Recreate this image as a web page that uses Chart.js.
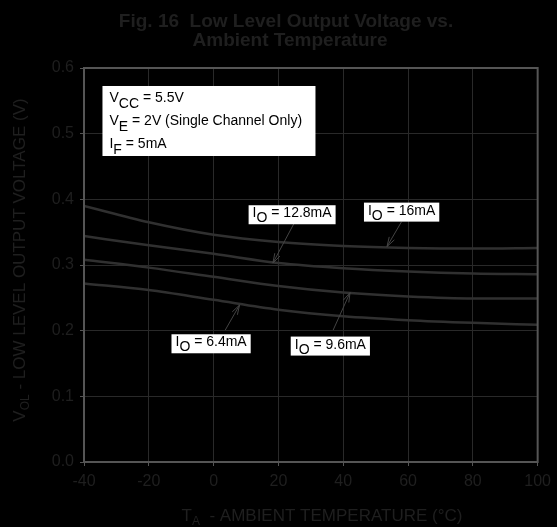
<!DOCTYPE html>
<html lang="en">
<head>
<meta charset="UTF-8">
<title>Fig. 16 Low Level Output Voltage vs. Ambient Temperature</title>
<script src="https://cdnjs.cloudflare.com/ajax/libs/Chart.js/4.4.0/chart.umd.min.js"></script>
<style>
  html, body { margin: 0; padding: 0; background: #000; }
  #wrap { width: 557px; height: 527px; }
</style>
</head>
<body>
<div id="wrap"><canvas id="chart" width="557" height="527"></canvas></div>
<script>
// temperature points (degrees C)
const temps = [-40, -20, 0, 20, 40, 60, 80, 100];

// V_OL readings (V) for each output current
const vol16 = [0.390, 0.365, 0.346, 0.335, 0.329, 0.326, 0.325, 0.326];
const vol128 = [0.344, 0.330, 0.317, 0.303, 0.295, 0.290, 0.287, 0.286];
const vol96 = [0.308, 0.296, 0.282, 0.268, 0.258, 0.252, 0.249, 0.249];
const vol64 = [0.272, 0.262, 0.247, 0.232, 0.222, 0.216, 0.212, 0.209];

const seriesNames = ['16mA', '12.8mA', '9.6mA', '6.4mA'];
const conditions = [['V', 'CC', ' = 5.5V'], ['V', 'E', ' = 2V (Single Channel Only)'], ['I', 'F', ' = 5mA']];

const FONT = "'Liberation Sans', Arial, Helvetica, sans-serif";
const TEXT = '#1f1f1f';
const GRID = '#292929';
const CURVE = '#303030';

// label boxes: box top-left + arrow start/tip, all in data units
const callouts = [
  { name: seriesNames[1], box: [10.8, 0.391], from: [25.1, 0.366], tip: [18.3, 0.303] },
  { name: seriesNames[0], box: [46.4, 0.395], from: [58.0, 0.366], tip: [53.5, 0.328] },
  { name: seriesNames[2], box: [23.8, 0.191], from: [36.9, 0.201], tip: [42.1, 0.258] },
  { name: seriesNames[3], box: [-13.0, 0.1945], from: [3.6, 0.201], tip: [8.0, 0.239] }
];

function pts(vals) {
  return temps.map((t, i) => ({ x: t, y: vals[i] }));
}

// text with a subscript part: [main, sub, rest]
function richText(ctx, parts, x, y, size, subSize, shift) {
  ctx.font = size + 'px ' + FONT;
  ctx.fillText(parts[0], x, y);
  x += ctx.measureText(parts[0]).width;
  ctx.font = subSize + 'px ' + FONT;
  ctx.fillText(parts[1], x, y + shift);
  x += ctx.measureText(parts[1]).width;
  ctx.font = size + 'px ' + FONT;
  ctx.fillText(parts[2], x, y);
  return x + ctx.measureText(parts[2]).width;
}

function richWidth(ctx, parts, size, subSize) {
  ctx.font = size + 'px ' + FONT;
  let w = ctx.measureText(parts[0]).width + ctx.measureText(parts[2]).width;
  ctx.font = subSize + 'px ' + FONT;
  return w + ctx.measureText(parts[1]).width;
}

function arrow(ctx, x1, y1, x2, y2) {
  const a = Math.atan2(y2 - y1, x2 - x1);
  const len = 10, spread = 0.3;
  ctx.beginPath();
  ctx.moveTo(x1, y1);
  ctx.lineTo(x2, y2);
  ctx.moveTo(x2 - len * Math.cos(a - spread), y2 - len * Math.sin(a - spread));
  ctx.lineTo(x2, y2);
  ctx.lineTo(x2 - len * Math.cos(a + spread), y2 - len * Math.sin(a + spread));
  ctx.stroke();
}

const overlay = {
  id: 'overlay',
  afterDatasetsDraw(chart) {
    const ctx = chart.ctx;
    const area = chart.chartArea;
    const xs = chart.scales.x, ys = chart.scales.y;
    ctx.save();

    // frame
    ctx.strokeStyle = '#555';
    ctx.lineWidth = 2;
    ctx.strokeRect(area.left, area.top, area.right - area.left, area.bottom - area.top);

    // title
    ctx.fillStyle = TEXT;
    ctx.textAlign = 'center';
    ctx.textBaseline = 'alphabetic';
    ctx.font = 'bold 19px ' + FONT;
    ctx.fillText('Fig. 16  Low Level Output Voltage vs.', 286, 27);
    ctx.fillText('Ambient Temperature', 290, 46);

    // axis titles
    ctx.textAlign = 'left';
    const xt = ['T', 'A', '  - AMBIENT TEMPERATURE (\u00B0C)'];
    const xw = richWidth(ctx, xt, 17, 12);
    richText(ctx, xt, 322 - xw / 2, 521, 17, 12, 4);

    const yt = ['V', 'OL', ' - LOW LEVEL OUTPUT VOLTAGE (V)'];
    const yw = richWidth(ctx, yt, 17, 12);
    ctx.save();
    ctx.translate(25, 260);
    ctx.rotate(-Math.PI / 2);
    richText(ctx, yt, -yw / 2, 0, 17, 12, 4);
    ctx.restore();

    // conditions box
    const bx = xs.getPixelForValue(-34.3), by = ys.getPixelForValue(0.5726);
    ctx.fillStyle = '#fff';
    ctx.fillRect(bx, by, 213, 70);
    ctx.fillStyle = '#000';
    conditions.forEach((c, i) => {
      richText(ctx, c, bx + 7, by + 16 + i * 23, 14, 14, 6);
    });

    // callouts
    ctx.strokeStyle = '#444';
    ctx.lineWidth = 1;
    callouts.forEach(c => {
      arrow(ctx,
        xs.getPixelForValue(c.from[0]), ys.getPixelForValue(c.from[1]),
        xs.getPixelForValue(c.tip[0]), ys.getPixelForValue(c.tip[1]));
      const parts = ['I', 'O', ' = ' + c.name];
      const w = richWidth(ctx, parts, 14, 14);
      const x0 = xs.getPixelForValue(c.box[0]);
      const y0 = ys.getPixelForValue(c.box[1]);
      ctx.fillStyle = '#fff';
      ctx.fillRect(x0, y0, w + 8, 19);
      ctx.fillStyle = '#000';
      richText(ctx, parts, x0 + 4, y0 + 12, 14, 14, 5);
    });

    ctx.restore();
  }
};

const lineStyle = {
  borderColor: CURVE,
  borderWidth: 2.5,
  pointRadius: 0,
  fill: false,
  cubicInterpolationMode: 'monotone'
};

new Chart(document.getElementById('chart'), {
  type: 'line',
  data: {
    datasets: [
      Object.assign({ label: seriesNames[0], data: pts(vol16) }, lineStyle),
      Object.assign({ label: seriesNames[1], data: pts(vol128) }, lineStyle),
      Object.assign({ label: seriesNames[2], data: pts(vol96) }, lineStyle),
      Object.assign({ label: seriesNames[3], data: pts(vol64) }, lineStyle)
    ]
  },
  options: {
    responsive: false,
    animation: false,
    layout: { padding: { top: 68, right: 19, left: 0, bottom: 0 } },
    plugins: {
      legend: { display: false },
      title: { display: false },
      tooltip: { enabled: false }
    },
    scales: {
      x: {
        type: 'linear',
        min: -40,
        max: 100,
        ticks: { stepSize: 20, color: TEXT, font: { family: FONT, size: 16 }, padding: 6 },
        grid: { color: GRID, tickLength: 4, tickColor: '#555' },
        border: { color: '#555', width: 2 },
        afterFit(scale) { scale.height = 65; }
      },
      y: {
        min: 0,
        max: 0.6,
        ticks: {
          stepSize: 0.1, color: TEXT, font: { family: FONT, size: 16 }, padding: 6,
          callback: v => v.toFixed(1)
        },
        grid: { color: GRID, tickLength: 4, tickColor: '#555' },
        border: { color: '#555', width: 2 },
        afterFit(scale) { scale.width = 84; }
      }
    }
  },
  plugins: [overlay]
});
</script>
</body>
</html>
